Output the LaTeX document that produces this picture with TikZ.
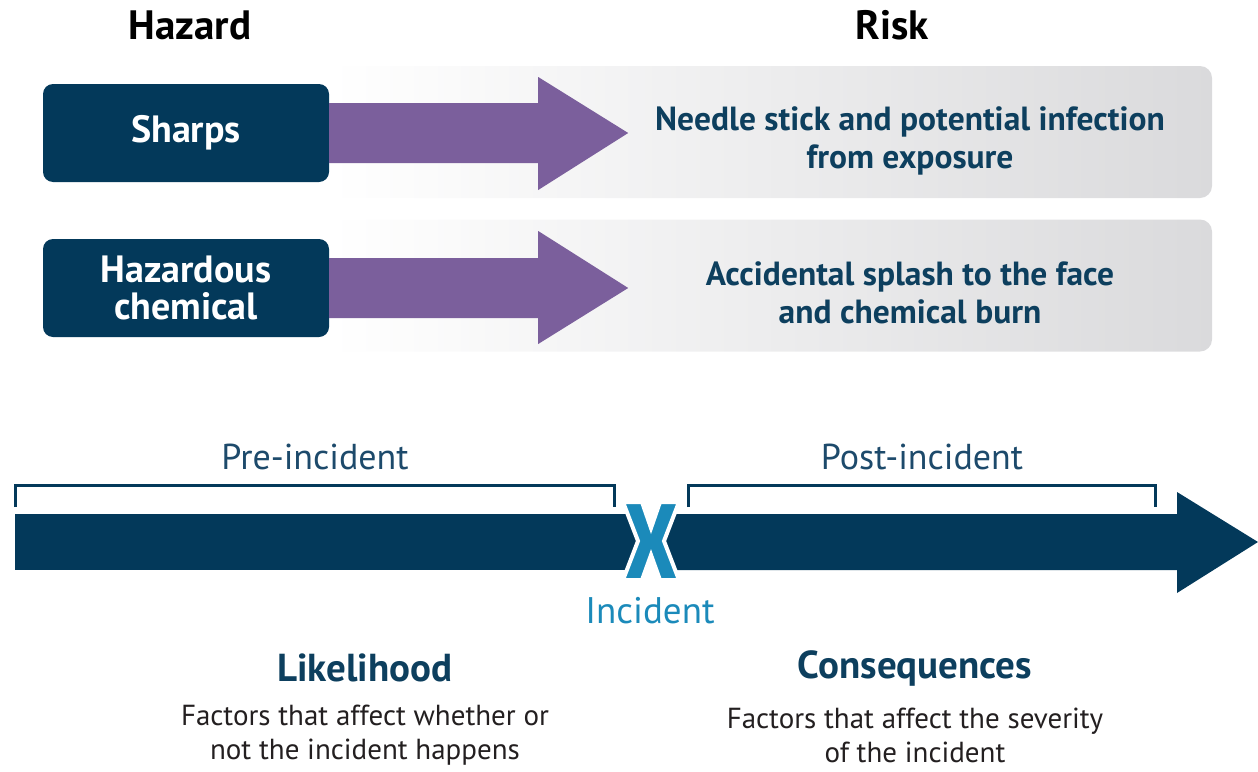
\documentclass[tikz,border=0pt]{standalone}
\usepackage{fontspec}
\setmainfont{PT Sans}
\usetikzlibrary{calc}
\definecolor{navy}{RGB}{3,57,90}
\definecolor{navytext}{RGB}{13,63,94}
\definecolor{purp}{RGB}{123,95,156}
\definecolor{xblue}{RGB}{27,138,186}
\definecolor{boxgray}{RGB}{218,218,220}
\definecolor{labelblue}{RGB}{29,74,107}
\definecolor{bodytext}{RGB}{35,31,32}
\tikzset{
  hazbox/.style={fill=navy, text=white, rounded corners=10pt, minimum width=286pt, minimum height=98pt,
    font=\bfseries\fontsize{38}{37}\selectfont, align=center, inner sep=0pt},
  riskbox/.style={shade, left color=white, right color=boxgray, rounded corners=12pt,
    minimum width=882pt, minimum height=132pt, inner sep=0pt},
  risktext/.style={text=navytext, font=\bfseries\fontsize{33.5}{38}\selectfont, align=center},
  header/.style={text=black, font=\bfseries\fontsize{41}{44}\selectfont},
  phase/.style={text=labelblue, font=\fontsize{36}{40}\selectfont},
  bracket/.style={draw=navy, line width=3pt},
  aspect/.style={text=navytext, font=\bfseries\fontsize{39}{42}\selectfont},
  desc/.style={text=bodytext, font=\fontsize{29}{34}\selectfont, align=center, inner sep=0pt},
  purparrow/.style={fill=purp},
}
\begin{document}
\begin{tikzpicture}[x=1pt,y=-1pt]
\useasboundingbox (0,0) rectangle (1258,771);

% headers
\node[header] (hazard) at (190,25) {Hazard};
\node[header] (risk) at (892,25) {Risk};

% risk boxes
\node[riskbox] (r1box) at (771,132) {};
\node[riskbox] (r2box) at (771,285.5) {};
\node[risktext] (r1) at (910,141) {Needle stick and potential infection\\from exposure};
\node[risktext] (r2) at (910,293) {Accidental splash to the face\\and chemical burn};

% hazard boxes
\node[hazbox] (sharps) at (186,133) {Sharps};
\node[hazbox] (chem) at (186,288) {Hazardous\\chemical};

% purple arrows
\fill[purparrow] ([yshift=30pt]sharps.east) -- ++(209,0) -- ++(0,-26) -- ++(90,56)
  -- ++(-90,57) -- ++(0,-27) -- ([yshift=-30pt]sharps.east) -- cycle;
\fill[purparrow] ([yshift=30pt]chem.east) -- ++(209,0) -- ++(0,-27) -- ++(90,57)
  -- ++(-90,56) -- ++(0,-26) -- ([yshift=-30pt]chem.east) -- cycle;

% phase labels and brackets
\node[phase] (pre) at (315,457) {Pre-incident};
\node[phase] (post) at (922,457) {Post-incident};
\draw[bracket] (15,507) |- (614,485) -- (614,507);
\draw[bracket] (688,507) |- (1155,485) -- (1155,507);

% timeline
\coordinate (tstart) at (15,542);
\coordinate (xmark) at (651,541);
\fill[navy] (15,514) -- (636,514) -- (636,570) -- (15,570) -- cycle;
\fill[navy] (666,514) -- (1177,514) -- (1177,492) -- (1258,542) -- (1177,593) -- (1177,570) -- (666,570) -- cycle;
\filldraw[fill=xblue, draw=white, line width=4pt, line join=miter]
  (623,502) -- (642,502) -- (651,528) -- (660,502) -- (679,502) -- (664,541) -- (679,580)
  -- (660,580) -- (651,555) -- (642,580) -- (623,580) -- (638,541) -- cycle;
\node[text=xblue, font=\fontsize{37}{40}\selectfont] (incident) at (650,611) {Incident};

% bottom texts
\node[aspect] (like) at (365,668) {Likelihood};
\node[desc] (liked) at (365,735) {Factors that affect whether or\\not the incident happens};
\node[aspect] (cons) at (915,668) {Consequences};
\node[desc] (consd) at (915,735) {Factors that affect the severity\\of the incident};
\end{tikzpicture}
\end{document}
